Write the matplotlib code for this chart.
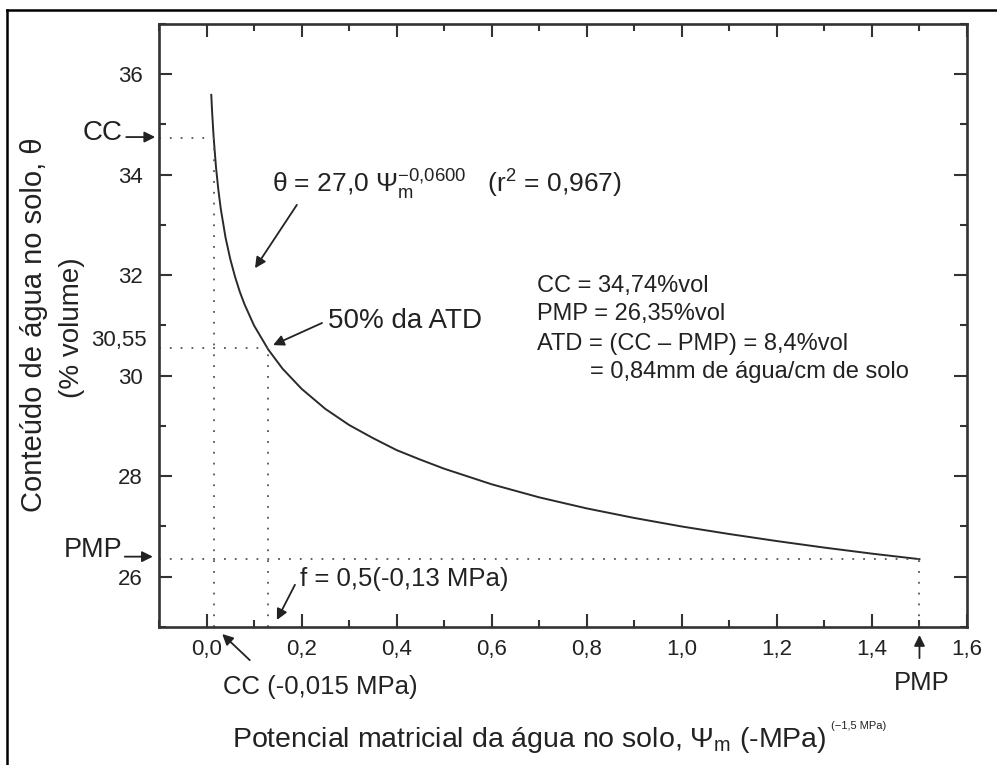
import matplotlib
matplotlib.use("Agg")
import matplotlib.pyplot as plt
from matplotlib.lines import Line2D
from matplotlib.ticker import MultipleLocator, FuncFormatter

plt.rcParams['font.family'] = ['Liberation Sans', 'DejaVu Sans']
plt.rcParams['mathtext.fontset'] = 'custom'
plt.rcParams['mathtext.rm'] = 'Liberation Sans'
plt.rcParams['mathtext.it'] = 'Liberation Sans'
plt.rcParams['mathtext.sf'] = 'Liberation Sans'
plt.rcParams['mathtext.bf'] = 'Liberation Sans:bold'

# curve: matric potential (-MPa) vs water content (% vol)
psi = [0.010, 0.011, 0.012, 0.015, 0.02, 0.025, 0.03, 0.04, 0.05, 0.06, 0.07,
       0.08, 0.10, 0.13, 0.16, 0.20, 0.25, 0.30, 0.35, 0.40, 0.45, 0.50, 0.60,
       0.70, 0.80, 0.90, 1.00, 1.10, 1.20, 1.30, 1.40, 1.50]
theta = [35.59, 35.39, 35.21, 34.74, 34.14, 33.69, 33.32, 32.75, 32.32, 31.97, 31.67,
         31.42, 31.00, 30.52, 30.14, 29.74, 29.34, 29.02, 28.76, 28.52, 28.33, 28.15, 27.84,
         27.58, 27.36, 27.17, 27.00, 26.85, 26.71, 26.58, 26.46, 26.35]

# reference points (CC, 50% ATD, PMP)
ref_psi = [0.015, 0.13, 1.5]
ref_theta = [34.74, 30.55, 26.35]

info_lines = ["CC = 34,74%vol", "PMP = 26,35%vol", "ATD = (CC \u2013 PMP) = 8,4%vol",
              "= 0,84mm de água/cm de solo"]

W, H = 997, 765
fx = lambda px: px / W
fy = lambda py: 1 - py / H

ink = '#222222'
fig = plt.figure(figsize=(W / 100, H / 100), dpi=100)
ax = fig.add_axes([fx(159), fy(627), 808 / W, 603 / H])

ax.plot(psi, theta, color='#2a2a2a', lw=1.4)

dot = dict(color='#555555', lw=1.3, linestyle=(0, (1, 5)))
for p, t in zip(ref_psi, ref_theta):
    ax.plot([-0.1, p], [t, t], **dot)
    ax.plot([p, p], [25, t], **dot)

ax.set_xlim(-0.1, 1.6)
ax.set_ylim(25, 37)
ax.xaxis.set_major_locator(MultipleLocator(0.2))
ax.xaxis.set_minor_locator(MultipleLocator(0.1))
ax.yaxis.set_major_locator(MultipleLocator(2))
ax.yaxis.set_minor_locator(MultipleLocator(1))
ax.xaxis.set_major_formatter(FuncFormatter(lambda v, p: f'{v:.1f}'.replace('.', ',')))
ax.yaxis.set_major_formatter(FuncFormatter(lambda v, p: f'{v:.0f}'))
ax.tick_params(which='both', direction='in', top=True, right=True, width=1.5,
               color='#333333', labelcolor=ink, labelsize=16)
ax.tick_params(which='major', length=9.5)
ax.tick_params(which='minor', length=5)
ax.tick_params(axis='x', pad=9)
ax.tick_params(axis='y', pad=11.5)
for s in ax.spines.values():
    s.set_linewidth(1.9)
    s.set_color('#333333')

arrow = dict(arrowstyle='-|>', color=ink, lw=1.3, mutation_scale=16, shrinkA=0, shrinkB=0)

def arr(x0, y0, x1, y1):
    ax.annotate('', xy=(x1, y1), xytext=(x0, y0), arrowprops=arrow, annotation_clip=False)

# left side markers
ax.text(-0.176, 34.83, 'CC', ha='right', va='center', fontsize=20, color=ink)
arr(-0.169, 34.75, -0.108, 34.75)
ax.text(-0.178, 26.53, 'PMP', ha='right', va='center', fontsize=19.5, color=ink)
arr(-0.172, 26.40, -0.113, 26.40)
ax.text(-0.125, 30.71, '30,55', ha='right', va='center', fontsize=16, color=ink)

# equation
ax.text(0.138, 33.64, r'θ = 27,0 $\Psi_{\mathrm{m}}^{-0{,}0600}$   (r$^{2}$ = 0,967)',
        ha='left', va='baseline', fontsize=19, color=ink)
arr(0.190, 33.40, 0.102, 32.14)

ax.text(0.256, 30.95, '50% da ATD', ha='left', va='baseline', fontsize=20, color=ink)
arr(0.243, 31.05, 0.140, 30.61)

# info block
base = [31.67, 31.11, 30.51, 29.96]
lefts = [0.695, 0.695, 0.695, 0.806]
for s, xb, yb in zip(info_lines, lefts, base):
    ax.text(xb, yb, s, ha='left', va='baseline', fontsize=17, color=ink)

ax.text(0.197, 25.82, 'f = 0,5(-0,13 MPa)', ha='left', va='baseline', fontsize=18.5, color=ink)
arr(0.186, 25.84, 0.148, 25.14)

ax.text(0.035, 23.67, 'CC (-0,015 MPa)', ha='left', va='baseline', fontsize=18.5, color=ink)
arr(0.091, 24.34, 0.033, 24.86)

ax.text(1.505, 23.75, 'PMP', ha='center', va='baseline', fontsize=18.5, color=ink)
arr(1.5, 24.38, 1.5, 24.84)

# axis labels
xl = fig.text(fx(232), fy(747), r'Potencial matricial da água no solo, $\Psi_{\mathrm{m}}$ (-MPa)',
              ha='left', va='baseline', fontsize=20.5, color=ink)
ax.annotate('(\u22121,5 MPa)', xy=(1.0, 1.0), xycoords=xl, xytext=(3, -1),
            textcoords='offset points', ha='left', va='center', fontsize=8, color=ink)
fig.text(fx(34), fy(325), 'Conteúdo de água no solo, θ', rotation=90,
         ha='center', va='center', fontsize=21, color=ink)
fig.text(fx(72), fy(328), '(% volume)', rotation=90,
         ha='center', va='center', fontsize=20, color=ink)

# outer frame
fig.add_artist(Line2D([fx(7), fx(7)], [fy(10), 0], transform=fig.transFigure, color='black', lw=1.8))
fig.add_artist(Line2D([fx(7), 1], [fy(10), fy(10)], transform=fig.transFigure, color='black', lw=1.8))

fig.savefig('out.png', dpi=100)
